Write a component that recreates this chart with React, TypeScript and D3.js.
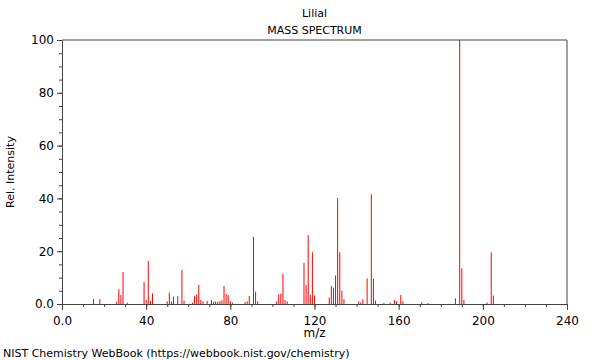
import { useEffect, useRef } from 'react'
import * as d3 from 'd3'

// m/z and relative intensity
const mz = [
  15, 18, 26, 27, 28, 29, 31, 39, 40, 41, 42, 43, 50, 51, 52, 53, 55, 57, 58, 62,
  63, 64, 65, 66, 67, 69, 71, 72, 73, 74, 75, 76, 77, 78, 79, 80, 81, 87, 88, 89,
  91, 92, 93, 102, 103, 104, 105, 106, 107, 115, 116, 117, 118, 119, 120, 127, 128, 129, 130, 131,
  132, 133, 134, 141, 142, 143, 145, 147, 148, 149, 153, 156, 158, 159, 161, 162, 171, 174, 187, 189,
  190, 191, 202, 204, 205,
]
const intensity = [
  1.9, 1.9, 0.9, 5.6, 3.4, 12.1, 0.5, 8.3, 1.5, 16.3, 1.2, 4.0, 1.0, 4.3, 1.0, 2.8, 3.0, 12.9, 1.3, 0.5,
  3.0, 3.6, 7.2, 1.5, 1.0, 1.2, 1.5, 0.8, 1.0, 0.8, 1.0, 1.4, 6.8, 3.8, 3.4, 1.0, 0.5, 0.7, 1.0, 3.0,
  25.5, 4.7, 1.0, 1.0, 3.6, 3.9, 11.4, 1.5, 1.0, 15.6, 7.2, 26.1, 3.5, 19.6, 3.2, 2.4, 6.8, 6.2, 10.8, 40.2,
  19.6, 5.0, 1.8, 1.0, 0.6, 1.8, 9.7, 41.6, 9.5, 1.3, 0.4, 0.5, 1.5, 1.0, 3.4, 1.0, 0.7, 0.4, 2.1, 100,
  13.5, 1.5, 0.6, 19.6, 3.2,
]
const xMajor = [0, 40, 80, 120, 160, 200, 240]
const yMajor = [0, 20, 40, 60, 80, 100]

const title = 'Lilial'
const subtitle = 'MASS SPECTRUM'
const footer = 'NIST Chemistry WebBook (https://webbook.nist.gov/chemistry)'

export default function App() {
  const svgRef = useRef<SVGSVGElement>(null)

  useEffect(() => {
    if (!svgRef.current) return
    const svg = d3.select(svgRef.current)
    svg.selectAll('*').remove()

    const width = 600
    const height = 360
    const margin = { top: 40, right: 33, bottom: 56, left: 62 }
    const font = 'DejaVu Sans, sans-serif'
    const axisColor = '#444'

    const x = d3.scaleLinear().domain([0, 240]).range([margin.left, width - margin.right])
    const y = d3.scaleLinear().domain([0, 100]).range([height - margin.bottom, margin.top])
    const fmt = (d: number) => (d === 0 ? '0.0' : String(d))

    // peaks
    svg.append('g')
      .selectAll('rect')
      .data(mz)
      .join('rect')
      .attr('x', d => x(d) - 0.5)
      .attr('width', 1)
      .attr('y', (_, i) => y(intensity[i]))
      .attr('height', (_, i) => y(0) - y(intensity[i]))
      .attr('fill', '#ff0000')

    // frame top and right
    svg.append('path')
      .attr('d', `M${x(0)},${y(100)}H${x(240)}V${y(0)}`)
      .attr('fill', 'none')
      .attr('stroke', axisColor)

    const xAxis = svg.append('g')
      .attr('transform', `translate(0,${y(0)})`)
      .call(d3.axisBottom(x).tickValues(d3.range(0, 241, 10)).tickSize(3).tickFormat(() => ''))
    xAxis.select('.domain').attr('stroke', axisColor)
    xAxis.selectAll('line').attr('stroke', axisColor)

    const xLabels = svg.append('g')
      .attr('transform', `translate(0,${y(0)})`)
      .call(d3.axisBottom(x).tickValues(xMajor).tickSize(6).tickPadding(6).tickFormat(d => fmt(d as number)))
    xLabels.select('.domain').remove()
    xLabels.selectAll('line').attr('stroke', axisColor)
    xLabels.selectAll('text')
      .style('font-family', font)
      .style('font-size', '12px')
      .attr('fill', '#000')

    const yAxis = svg.append('g')
      .attr('transform', `translate(${x(0)},0)`)
      .call(d3.axisLeft(y).tickValues(d3.range(0, 101, 5)).tickSize(3).tickFormat(() => ''))
    yAxis.select('.domain').attr('stroke', axisColor)
    yAxis.selectAll('line').attr('stroke', axisColor)

    const yLabels = svg.append('g')
      .attr('transform', `translate(${x(0)},0)`)
      .call(d3.axisLeft(y).tickValues(yMajor).tickSize(5).tickPadding(3).tickFormat(d => fmt(d as number)))
    yLabels.select('.domain').remove()
    yLabels.selectAll('line').attr('stroke', axisColor)
    yLabels.selectAll('text')
      .style('font-family', font)
      .style('font-size', '12px')
      .attr('fill', '#000')

    const cx = (x(0) + x(240)) / 2
    svg.append('text')
      .attr('x', cx).attr('y', 17)
      .attr('text-anchor', 'middle')
      .style('font-family', font).style('font-size', '11px')
      .text(title)
    svg.append('text')
      .attr('x', cx).attr('y', 34)
      .attr('text-anchor', 'middle')
      .style('font-family', font).style('font-size', '11px')
      .text(subtitle)

    svg.append('text')
      .attr('x', cx).attr('y', 337)
      .attr('text-anchor', 'middle')
      .style('font-family', font).style('font-size', '12px')
      .text('m/z')

    svg.append('text')
      .attr('transform', `translate(14,${(y(0) + y(100)) / 2}) rotate(-90)`)
      .attr('text-anchor', 'middle')
      .style('font-family', font).style('font-size', '11px')
      .text('Rel. Intensity')

    svg.append('text')
      .attr('x', 3).attr('y', 357)
      .style('font-family', font).style('font-size', '11px')
      .text(footer)
  }, [])

  return (
    <svg
      ref={svgRef}
      width={600}
      height={360}
      style={{ position: 'absolute', left: 0, top: 0, background: '#fff' }}
    />
  )
}
